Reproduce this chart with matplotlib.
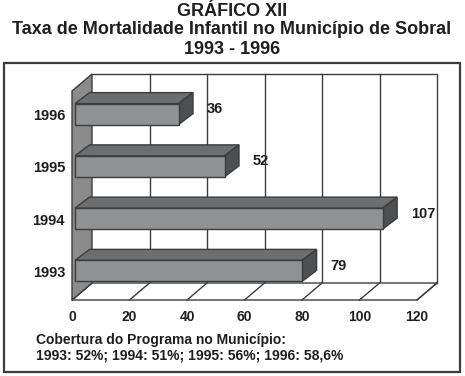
import numpy as np
import matplotlib
matplotlib.use("Agg")
import matplotlib.pyplot as plt
from matplotlib.patches import Polygon, Rectangle

plt.rcParams['font.family'] = ['Liberation Sans', 'DejaVu Sans']
plt.rcParams['font.weight'] = 'bold'

# Data
years = ['1993', '1994', '1995', '1996']
mortalidade = [79, 107, 52, 36]
x_ticks = [0, 20, 40, 60, 80, 100, 120]
title_lines = ['GRÁFICO XII',
               'Taxa de Mortalidade Infantil no Município de Sobral',
               '1993 - 1996']
nota = ['Cobertura do Programa no Município:',
        '1993: 52%; 1994: 51%; 1995: 56%; 1996: 58,6%']

# colours
edge = '#3c3c3c'
txt_c = '#1e1e1e'
c_front = '#8f9192'
c_top = '#6c6e6f'
c_side = '#4d4f50'
c_wall = '#8b8b8b'

W, H = 465, 376
fig = plt.figure(figsize=(W / 100, H / 100), dpi=100)

# back plane of the 3D box (pixel box)
bx0, bx1, by0, by1 = 92, 437, 74, 283
ax = fig.add_axes([bx0 / W, 1 - by1 / H, (bx1 - bx0) / W, (by1 - by0) / H])
ax.set_xlim(x_ticks[0], x_ticks[-1])
ax.set_ylim(-0.5, len(years) - 0.5)
ax.axis('off')

kx = (x_ticks[-1] - x_ticks[0]) / (bx1 - bx0)
ky = len(years) / (by1 - by0)


# pixel offset (right, down) -> offset in data units
def off(px, py):
    return px * kx, -py * ky


ylo, yhi = -0.5, len(years) - 0.5
xmax = x_ticks[-1]
fdx, fdy = off(-20, 17)     # floor / wall depth
bdx, bdy = off(-17, 14)     # front face of bars
ddx, ddy = off(14.5, -11)   # bar depth (front -> back)
bar_h = 21 * ky

# back plane frame + gridlines
ax.plot([0, xmax, xmax], [yhi, yhi, ylo], color=edge, lw=1, clip_on=False, zorder=1)
for t in x_ticks[1:-1]:
    ax.plot([t, t], [ylo, yhi], color=edge, lw=1, clip_on=False, zorder=1)

# floor
floor = Polygon([(0, ylo), (xmax, ylo), (xmax + fdx, ylo + fdy), (fdx, ylo + fdy)],
                closed=True, fc='white', ec=edge, lw=1, clip_on=False, zorder=2)
ax.add_patch(floor)
for t in x_ticks:
    ax.plot([t, t + fdx], [ylo, ylo + fdy], color=edge, lw=1, clip_on=False, zorder=2)

# left wall
wall = Polygon([(0, ylo), (0, yhi), (fdx, yhi + fdy), (fdx, ylo + fdy)],
               closed=True, fc=c_wall, ec=edge, lw=1, clip_on=False, zorder=3)
ax.add_patch(wall)

# 3D bars
for i, v in enumerate(mortalidade):
    x0, x1 = bdx, v + bdx
    yb, yt = i - bar_h / 2 + bdy, i + bar_h / 2 + bdy
    top = Polygon([(x0, yt), (x1, yt), (x1 + ddx, yt + ddy), (x0 + ddx, yt + ddy)],
                  fc=c_top, ec=edge, lw=1, clip_on=False, zorder=4)
    side = Polygon([(x1, yt), (x1, yb), (x1 + ddx, yb + ddy), (x1 + ddx, yt + ddy)],
                   fc=c_side, ec=edge, lw=1, clip_on=False, zorder=4)
    front = Polygon([(x0, yb), (x1, yb), (x1, yt), (x0, yt)],
                    fc=c_front, ec=edge, lw=1, clip_on=False, zorder=5)
    for p in (top, side, front):
        ax.add_patch(p)
    ax.annotate(str(v), (v, i), xytext=(11, -9), textcoords='offset pixels',
                ha='left', va='center', fontsize=10.5, color=txt_c,
                annotation_clip=False)
    ax.annotate(years[i], (0, i), xytext=(-27, -16), textcoords='offset pixels',
                ha='right', va='center', fontsize=10.5, color=txt_c,
                annotation_clip=False)

# x tick labels on the front edge of the floor
for t in x_ticks:
    ax.annotate(str(t), (t, ylo), xytext=(-20, -34), textcoords='offset pixels',
                ha='center', va='center', fontsize=10, color=txt_c,
                annotation_clip=False)

# titles
for txt, yp in zip(title_lines, [11, 30, 49]):
    fig.text(232 / W, 1 - yp / H, txt, ha='center', va='center',
             fontsize=13, color=txt_c)

# note below chart
for txt, yp in zip(nota, [340, 356]):
    fig.text(36 / W, 1 - yp / H, txt, ha='left', va='center',
             fontsize=10, color=txt_c)

# outer frame
fig.patches.append(Rectangle((4 / W, 1 - 372 / H), 456 / W, 309 / H,
                             transform=fig.transFigure, fill=False,
                             ec=edge, lw=1.6))

fig.savefig('out.png', dpi=100)
